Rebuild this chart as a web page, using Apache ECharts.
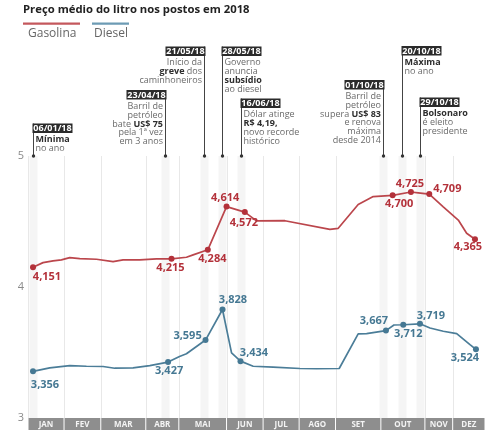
<!DOCTYPE html>
<html>
<head>
<meta charset="utf-8">
<title>Preço médio do litro nos postos em 2018</title>
<script src="https://cdn.jsdelivr.net/npm/echarts@6.0.0/dist/echarts.min.js"></script>
<style>
  html, body { margin: 0; padding: 0; background: #fff; }
  #chart { width: 486px; height: 430px; }
</style>
</head>
<body>
<div id="chart"></div>
<script>
// Weekly average pump price (R$ per litre), 2018. X is measured in weeks of the year.
const months = ['JAN', 'FEV', 'MAR', 'ABR', 'MAI', 'JUN', 'JUL', 'AGO', 'SET', 'OUT', 'NOV', 'DEZ'];
const monthEdges = [0, 4.1, 8.28, 13.4, 17.16, 22.59, 26.75, 30.85, 34.99, 40.15, 45.16, 48.32, 52];

const gasWeek = [0.57, 1.71, 2.85, 3.80, 4.75, 5.89, 7.79, 9.68, 10.82, 12.72, 14.62, 16.33, 18.03, 18.79, 20.46,
  22.59, 24.67, 26.00, 29.23, 34.35, 35.30, 37.57, 39.28, 41.49, 43.57, 44.40, 45.66, 47.25, 48.96, 49.91, 50.86];
const gasPrice = [4.151, 4.186, 4.200, 4.207, 4.224, 4.217, 4.212, 4.194, 4.207, 4.207, 4.214, 4.215, 4.227, 4.245, 4.284,
  4.614, 4.572, 4.505, 4.506, 4.440, 4.448, 4.630, 4.690, 4.700, 4.725, 4.719, 4.709, 4.612, 4.511, 4.410, 4.365];
const gasMarked = [0, 11, 14, 15, 16, 23, 24, 26, 30];

const dieselWeek = [0.57, 2.47, 4.75, 6.65, 8.54, 9.87, 11.95, 13.86, 15.94, 17.24, 18.03, 20.20, 22.13, 23.16, 24.18,
  25.62, 27.89, 30.94, 32.84, 35.41, 37.57, 38.53, 40.73, 41.64, 42.70, 44.60, 45.74, 47.25, 48.78, 50.29, 50.97];
const dieselPrice = [3.356, 3.383, 3.400, 3.395, 3.393, 3.380, 3.383, 3.400, 3.427, 3.470, 3.490, 3.595, 3.828, 3.497, 3.434,
  3.395, 3.388, 3.378, 3.376, 3.378, 3.642, 3.644, 3.667, 3.710, 3.712, 3.719, 3.687, 3.662, 3.644, 3.560, 3.524];
const dieselMarked = [0, 8, 11, 12, 14, 22, 24, 25, 30];

const eventWeek = [0.57, 15.64, 20.0, 22.13, 24.25, 40.42, 42.51, 44.60];
const eventDate = ['06/01/18', '23/04/18', '21/05/18', '28/05/18', '16/06/18', '01/10/18', '20/10/18', '29/10/18'];
const eventNote = [
  '{b|Mínima}\nno ano',
  'Barril de\npetróleo\nbate {b|US$ 75}\npela 1ª vez\nem 3 anos',
  'Início da\n{b|greve} dos\ncaminhoneiros',
  'Governo\nanuncia\n{b|subsídio}\nao diesel',
  'Dólar atinge\n{b|R$ 4,19,}\nnovo recorde\nhistórico',
  'Barril de\npetróleo\nsupera {b|US$ 83}\ne renova\nmáxima\ndesde 2014',
  '{b|Máxima}\nno ano',
  '{b|Bolsonaro}\né eleito\npresidente'
];

const yMin = 3, yMax = 5;

// ---- layout / style ----
const FONT = '"Open Sans", "DejaVu Sans", sans-serif';
const GAS_LINE = '#bb464c', GAS_TEXT = '#b3313a';
const DSL_LINE = '#4b7d98', DSL_TEXT = '#457893';

// label centre offsets (px) relative to each marked point
const gasNudge = [[14, 9.5], [-1, 9], [4.5, 9], [-1.4, -8.7], [-1, 11], [6.5, 8.5], [-1, -8], [18, -5.5], [-7, 8]];
const dslNudge = [[12, 13], [1, 9], [-18, -4], [10.5, -10], [13.5, -8], [-12, -9.5], [5, 9], [11, -7.5], [-11, 8.5]];

// side: 1 = date box to the right of its line, -1 = to the left; top = box top (px)
const eventLayout = [
  { side: 1, top: 123.5 }, { side: -1, top: 90 }, { side: -1, top: 46.5 }, { side: 1, top: 46.5 },
  { side: 1, top: 98.5 }, { side: -1, top: 80 }, { side: 1, top: 46 }, { side: 1, top: 97.5 }
];

const fmt = v => v.toFixed(3).replace('.', ',');

function lineData(weeks, prices, marked, nudge, textColor) {
  return weeks.map((w, i) => {
    const k = marked.indexOf(i);
    if (k < 0) return { value: [w, prices[i]], symbol: 'none' };
    return {
      value: [w, prices[i]],
      symbol: 'circle',
      symbolSize: 6,
      label: {
        show: true,
        position: 'inside',
        offset: nudge[k],
        formatter: p => fmt(p.value[1]),
        color: textColor,
        fontFamily: FONT,
        fontSize: 11,
        fontWeight: 'bold',
        textBorderWidth: 0
      }
    };
  });
}

const chart = echarts.init(document.getElementById('chart'), null, { renderer: 'canvas' });

chart.setOption({
  animation: false,
  backgroundColor: '#fff',
  title: {
    text: 'Preço médio do litro nos postos em 2018',
    left: 23, top: 4, padding: 0,
    textStyle: { fontFamily: FONT, fontSize: 11.3, fontWeight: 'bold', color: '#222' }
  },
  graphic: [
    { type: 'rect', shape: { x: 23, y: 22.5, width: 57, height: 2.2 }, style: { fill: '#c4585d' } },
    { type: 'text', style: { text: 'Gasolina', x: 28, y: 33.5, verticalAlign: 'middle', fill: '#666', font: '12px ' + FONT } },
    { type: 'rect', shape: { x: 92, y: 22.5, width: 37, height: 2.2 }, style: { fill: '#6d9bb4' } },
    { type: 'text', style: { text: 'Diesel', x: 94, y: 33.5, verticalAlign: 'middle', fill: '#666', font: '12px ' + FONT } }
  ],
  grid: { left: 28, right: 1, top: 156, bottom: 12 },
  xAxis: { type: 'value', min: 0, max: 52, show: false },
  yAxis: {
    type: 'value', min: yMin, max: yMax, interval: 1,
    axisLine: { show: false }, axisTick: { show: false }, splitLine: { show: false },
    axisLabel: { color: '#8a8a8a', fontFamily: FONT, fontSize: 11, margin: 4 }
  },
  series: [
    {
      // month bar under the plot plus the month divider lines
      type: 'custom',
      z: 0,
      silent: true,
      data: months.map((m, i) => [monthEdges[i], monthEdges[i + 1], yMin]),
      encode: { x: [0, 1], y: 2 },
      renderItem(params, api) {
        const cs = params.coordSys;
        const x0 = api.coord([api.value(0), yMin])[0];
        const x1 = api.coord([api.value(1), yMin])[0];
        const bottom = cs.y + cs.height;
        const lx = Math.round(x0) + 0.5;
        return {
          type: 'group',
          children: [
            { type: 'line', shape: { x1: lx, y1: cs.y, x2: lx, y2: bottom }, style: { stroke: '#e8e8e8', lineWidth: 1 } },
            { type: 'rect', shape: { x: x0 + 0.5, y: bottom, width: x1 - x0 - 1, height: 12 }, style: { fill: '#8e8e8e' } },
            {
              type: 'text',
              style: {
                text: months[params.dataIndex], x: (x0 + x1) / 2, y: bottom + 6.5,
                align: 'center', verticalAlign: 'middle', fill: '#f4f4f4',
                font: 'bold 8px ' + FONT
              }
            }
          ]
        };
      }
    },
    {
      // event highlights with their callouts
      type: 'custom',
      z: 1,
      silent: true,
      data: eventWeek.map(w => [w, yMax]),
      encode: { x: 0, y: 1 },
      renderItem(params, api) {
        const i = params.dataIndex;
        const cs = params.coordSys;
        const x = Math.round(api.coord([api.value(0), yMax])[0]) + 0.5;
        const yTop = cs.y;
        const L = eventLayout[i];
        const boxW = 40, boxH = 9.5;
        const boxX = L.side > 0 ? x - 1 : x - boxW + 1;
        return {
          type: 'group',
          children: [
            { type: 'rect', shape: { x: x - 4, y: yTop, width: 8, height: cs.height }, style: { fill: '#f5f5f5' } },
            { type: 'line', shape: { x1: x, y1: L.top, x2: x, y2: yTop }, style: { stroke: '#444', lineWidth: 1 } },
            { type: 'circle', shape: { cx: x, cy: yTop, r: 1.7 }, style: { fill: '#333' } },
            { type: 'rect', shape: { x: boxX, y: L.top, width: boxW, height: boxH }, style: { fill: '#2b2b2b' } },
            {
              type: 'text',
              style: {
                text: eventDate[i], x: boxX + boxW / 2, y: L.top + boxH / 2 + 0.5,
                align: 'center', verticalAlign: 'middle', fill: '#fff', font: 'bold 9px ' + FONT
              }
            },
            {
              type: 'text',
              style: {
                text: eventNote[i],
                x: L.side > 0 ? x + 2 : x - 2.5,
                y: L.top + boxH + 2.5,
                align: L.side > 0 ? 'left' : 'right',
                verticalAlign: 'top',
                fill: '#6a6a6a',
                fontFamily: FONT, fontSize: 9, lineHeight: 8.8,
                rich: {
                  b: { fill: '#2e2e2e', fontFamily: FONT, fontSize: 9, fontWeight: 'bold', lineHeight: 8.8 }
                }
              }
            }
          ]
        };
      }
    },
    {
      name: 'Gasolina',
      type: 'line',
      z: 3,
      silent: true,
      showAllSymbol: true,
      color: GAS_LINE,
      lineStyle: { color: GAS_LINE, width: 1.7 },
      itemStyle: { color: GAS_TEXT },
      data: lineData(gasWeek, gasPrice, gasMarked, gasNudge, GAS_TEXT)
    },
    {
      name: 'Diesel',
      type: 'line',
      z: 3,
      silent: true,
      showAllSymbol: true,
      color: DSL_LINE,
      lineStyle: { color: DSL_LINE, width: 1.7 },
      itemStyle: { color: DSL_TEXT },
      data: lineData(dieselWeek, dieselPrice, dieselMarked, dslNudge, DSL_TEXT)
    }
  ]
});
</script>
</body>
</html>
